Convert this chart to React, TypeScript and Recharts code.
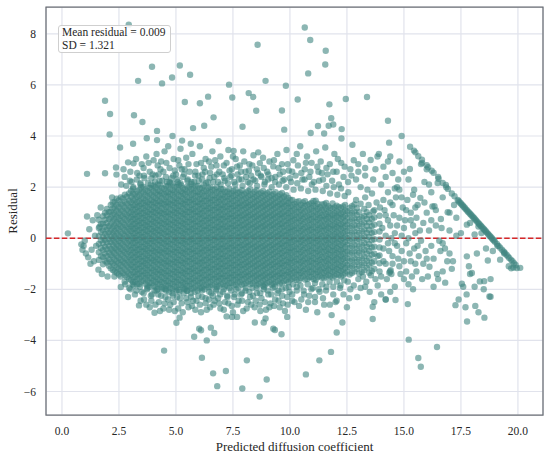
import React from 'react';
import {
  ScatterChart,
  Scatter,
  XAxis,
  YAxis,
  CartesianGrid,
  ReferenceLine,
  ReferenceArea,
} from 'recharts';

// axis setup
const xTicks = [0, 2.5, 5, 7.5, 10, 12.5, 15, 17.5, 20];
const yTicks = [-6, -4, -2, 0, 2, 4, 6, 8];
const xDomain: [number, number] = [-0.7, 21.1];
const yDomain: [number, number] = [-6.92, 9.05];

const meanResidual = 0.009;
const sdResidual = 1.321;

// dense body of the cloud: [predicted, residuals at that predicted value]
const coreLeft: [number, number[]][] = [
  [1.62, [-0.85, -0.55, -0.22, 0.08, 0.4, 0.72]],
  [1.8, [-1.02, -0.74, -0.47, -0.2, 0.04, 0.3, 0.57, 0.86]],
  [1.97, [-0.95, -0.7, -0.43, -0.17, 0.1, 0.34, 0.6, 0.9, 1.15]],
  [2.14, [-1.18, -0.92, -0.66, -0.42, -0.16, 0.08, 0.31, 0.55, 0.8, 1.04, 1.3]],
  [2.31, [-1.3, -1.06, -0.83, -0.6, -0.38, -0.15, 0.07, 0.28, 0.5, 0.73, 0.95, 1.18, 1.42]],
  [2.49, [-1.42, -1.2, -0.97, -0.76, -0.53, -0.31, -0.1, 0.11, 0.34, 0.56, 0.77, 0.99, 1.22, 1.48]],
  [2.67, [-1.36, -1.12, -0.9, -0.67, -0.46, -0.24, -0.02, 0.19, 0.42, 0.63, 0.86, 1.08, 1.31, 1.56]],
  [2.85, [-1.52, -1.29, -1.06, -0.84, -0.62, -0.41, -0.19, 0.03, 0.25, 0.46, 0.69, 0.9, 1.12, 1.36, 1.62]],
  [3.03, [-1.64, -1.43, -1.22, -1.04, -0.84, -0.66, -0.46, -0.28, -0.09, 0.09, 0.28, 0.46, 0.65, 0.83, 1.02, 1.21, 1.41, 1.63, 1.86]],
  [3.21, [-1.71, -1.51, -1.31, -1.13, -0.93, -0.74, -0.56, -0.37, -0.17, 0.01, 0.2, 0.38, 0.57, 0.75, 0.93, 1.13, 1.31, 1.52, 1.73]],
  [3.39, [-1.79, -1.58, -1.39, -1.19, -1.01, -0.8, -0.63, -0.43, -0.25, -0.05, 0.13, 0.31, 0.51, 0.68, 0.88, 1.06, 1.26, 1.45, 1.67, 1.9]],
  [3.57, [-1.67, -1.46, -1.28, -1.07, -0.9, -0.71, -0.51, -0.34, -0.14, 0.04, 0.24, 0.42, 0.61, 0.79, 0.99, 1.17, 1.38, 1.56, 1.79, 2.01]],
  [3.75, [-1.86, -1.65, -1.45, -1.24, -1.06, -0.85, -0.68, -0.48, -0.29, -0.11, 0.09, 0.27, 0.47, 0.64, 0.85, 1.03, 1.23, 1.41, 1.63, 1.85]],
  [3.93, [-1.76, -1.56, -1.35, -1.17, -0.96, -0.79, -0.58, -0.41, -0.2, -0.03, 0.18, 0.35, 0.56, 0.73, 0.94, 1.11, 1.32, 1.5, 1.72, 1.96]],
];

const coreLeftB: [number, number[]][] = [
  [1.71, [-0.7, -0.38, -0.08, 0.24, 0.56]],
  [1.89, [-0.88, -0.6, -0.33, -0.07, 0.17, 0.44, 0.72, 1.0]],
  [2.06, [-1.08, -0.82, -0.56, -0.3, -0.04, 0.22, 0.47, 0.75, 1.02]],
  [2.23, [-1.24, -0.98, -0.73, -0.49, -0.26, -0.03, 0.2, 0.43, 0.67, 0.92, 1.16, 1.4]],
  [2.4, [-1.35, -1.13, -0.9, -0.68, -0.45, -0.24, -0.02, 0.19, 0.4, 0.62, 0.84, 1.07, 1.3, 1.55]],
  [2.58, [-1.5, -1.28, -1.06, -0.85, -0.63, -0.41, -0.2, 0.01, 0.23, 0.45, 0.67, 0.88, 1.1, 1.34, 1.6]],
  [2.76, [-1.45, -1.22, -0.99, -0.78, -0.56, -0.35, -0.13, 0.09, 0.3, 0.52, 0.74, 0.96, 1.19, 1.43, 1.7]],
  [2.94, [-1.6, -1.38, -1.15, -0.94, -0.73, -0.52, -0.3, -0.08, 0.14, 0.36, 0.57, 0.79, 1.01, 1.24, 1.48, 1.75]],
  [3.12, [-1.72, -1.53, -1.33, -1.13, -0.94, -0.75, -0.56, -0.37, -0.18, 0.0, 0.19, 0.37, 0.55, 0.74, 0.93, 1.12, 1.31, 1.52, 1.74, 1.95]],
  [3.3, [-1.8, -1.6, -1.41, -1.22, -1.03, -0.84, -0.65, -0.46, -0.27, -0.08, 0.1, 0.29, 0.47, 0.66, 0.84, 1.03, 1.22, 1.41, 1.62, 1.84]],
  [3.48, [-1.7, -1.49, -1.29, -1.1, -0.9, -0.72, -0.53, -0.34, -0.15, 0.04, 0.22, 0.41, 0.6, 0.78, 0.97, 1.16, 1.35, 1.56, 1.78, 2.0]],
  [3.66, [-1.78, -1.57, -1.37, -1.17, -0.98, -0.8, -0.6, -0.42, -0.23, -0.05, 0.14, 0.33, 0.51, 0.7, 0.89, 1.08, 1.28, 1.47, 1.69, 1.92]],
  [3.84, [-1.9, -1.75, -1.55, -1.35, -1.15, -0.95, -0.76, -0.58, -0.38, -0.2, -0.01, 0.18, 0.37, 0.55, 0.75, 0.94, 1.13, 1.32, 1.52, 1.74, 1.97]],
  [4.02, [-1.86, -1.66, -1.46, -1.26, -1.06, -0.87, -0.68, -0.5, -0.3, -0.11, 0.08, 0.27, 0.46, 0.65, 0.84, 1.03, 1.22, 1.41, 1.62, 1.84, 2.06]],
];

const coreMid: [number, number[]][] = [
  [4.11, [-1.91, -1.7, -1.52, -1.31, -1.13, -0.92, -0.75, -0.54, -0.37, -0.15, 0.02, 0.23, 0.4, 0.61, 0.79, 1.0, 1.17, 1.38, 1.56, 1.78, 1.99]],
  [4.29, [-1.81, -1.63, -1.42, -1.25, -1.04, -0.86, -0.65, -0.48, -0.27, -0.09, 0.12, 0.29, 0.5, 0.68, 0.89, 1.06, 1.28, 1.45, 1.67, 1.85, 2.09]],
  [4.48, [-1.97, -1.75, -1.58, -1.37, -1.19, -0.98, -0.81, -0.59, -0.42, -0.21, -0.04, 0.17, 0.35, 0.56, 0.73, 0.95, 1.12, 1.33, 1.51, 1.73, 1.94]],
  [4.66, [-1.86, -1.68, -1.47, -1.29, -1.08, -0.91, -0.69, -0.52, -0.31, -0.13, 0.08, 0.25, 0.46, 0.64, 0.85, 1.02, 1.24, 1.41, 1.63, 1.81, 2.05]],
  [4.85, [-2.01, -1.79, -1.61, -1.4, -1.23, -1.01, -0.84, -0.63, -0.45, -0.24, -0.07, 0.15, 0.32, 0.53, 0.7, 0.92, 1.09, 1.3, 1.48, 1.7, 1.89, 2.13]],
  [5.03, [-1.93, -1.71, -1.54, -1.33, -1.15, -0.94, -0.77, -0.55, -0.38, -0.17, 0.0, 0.22, 0.39, 0.6, 0.78, 0.99, 1.16, 1.38, 1.56, 1.79, 2.01]],
  [5.22, [-1.83, -1.66, -1.44, -1.27, -1.06, -0.88, -0.67, -0.5, -0.28, -0.11, 0.1, 0.28, 0.49, 0.66, 0.87, 1.05, 1.26, 1.44, 1.65, 1.84, 2.07]],
  [5.4, [-1.99, -1.77, -1.59, -1.38, -1.21, -0.99, -0.82, -0.61, -0.43, -0.22, -0.05, 0.17, 0.34, 0.55, 0.73, 0.94, 1.11, 1.33, 1.5, 1.72, 1.91]],
  [5.59, [-1.89, -1.68, -1.5, -1.29, -1.12, -0.9, -0.73, -0.52, -0.34, -0.13, 0.04, 0.26, 0.43, 0.64, 0.82, 1.03, 1.2, 1.42, 1.59, 1.81, 2.03]],
  [5.77, [-1.96, -1.74, -1.57, -1.35, -1.18, -0.97, -0.79, -0.58, -0.41, -0.19, -0.02, 0.19, 0.37, 0.58, 0.75, 0.97, 1.14, 1.35, 1.53, 1.75, 1.96]],
  [5.96, [-1.85, -1.67, -1.46, -1.28, -1.07, -0.9, -0.68, -0.51, -0.3, -0.12, 0.09, 0.26, 0.48, 0.65, 0.86, 1.04, 1.25, 1.42, 1.64, 1.82, 2.05]],
  [6.14, [-1.94, -1.73, -1.55, -1.34, -1.16, -0.95, -0.78, -0.56, -0.39, -0.18, 0.0, 0.21, 0.38, 0.6, 0.77, 0.98, 1.16, 1.37, 1.54, 1.76, 1.97]],
  [6.33, [-1.84, -1.62, -1.45, -1.23, -1.06, -0.85, -0.67, -0.46, -0.29, -0.07, 0.1, 0.31, 0.49, 0.7, 0.87, 1.09, 1.26, 1.47, 1.65, 1.87]],
  [6.51, [-1.91, -1.7, -1.52, -1.31, -1.14, -0.92, -0.75, -0.54, -0.36, -0.15, 0.02, 0.24, 0.41, 0.62, 0.8, 1.01, 1.18, 1.4, 1.57, 1.8, 2.0]],
  [6.7, [-1.81, -1.59, -1.42, -1.21, -1.03, -0.82, -0.65, -0.43, -0.26, -0.05, 0.13, 0.34, 0.51, 0.73, 0.9, 1.11, 1.29, 1.5, 1.68, 1.91]],
  [6.88, [-1.88, -1.67, -1.49, -1.28, -1.11, -0.89, -0.72, -0.51, -0.33, -0.12, 0.05, 0.27, 0.44, 0.65, 0.83, 1.04, 1.21, 1.43, 1.61, 1.84]],
  [7.06, [-1.78, -1.57, -1.39, -1.18, -1.0, -0.79, -0.62, -0.4, -0.23, -0.02, 0.15, 0.37, 0.54, 0.75, 0.93, 1.14, 1.31, 1.53, 1.71, 1.92]],
  [7.25, [-1.86, -1.65, -1.47, -1.26, -1.08, -0.87, -0.7, -0.48, -0.31, -0.1, 0.08, 0.29, 0.46, 0.68, 0.85, 1.06, 1.24, 1.45, 1.63, 1.83]],
  [7.43, [-1.75, -1.54, -1.36, -1.15, -0.97, -0.76, -0.59, -0.37, -0.2, 0.01, 0.19, 0.4, 0.57, 0.79, 0.96, 1.17, 1.35, 1.56, 1.76]],
  [7.62, [-1.83, -1.62, -1.44, -1.23, -1.05, -0.84, -0.66, -0.45, -0.28, -0.06, 0.11, 0.33, 0.5, 0.71, 0.89, 1.1, 1.28, 1.49, 1.69, 1.9]],
  [7.8, [-1.72, -1.51, -1.33, -1.12, -0.94, -0.73, -0.56, -0.34, -0.17, 0.05, 0.22, 0.43, 0.61, 0.82, 1.0, 1.21, 1.38, 1.6, 1.8]],
  [7.99, [-1.8, -1.59, -1.41, -1.2, -1.02, -0.81, -0.63, -0.42, -0.25, -0.03, 0.14, 0.36, 0.53, 0.74, 0.92, 1.13, 1.31, 1.52, 1.72]],
];

const coreMidB: [number, number[]][] = [
  [4.2, [-2.0, -1.8, -1.61, -1.41, -1.22, -1.02, -0.83, -0.64, -0.45, -0.25, -0.06, 0.13, 0.32, 0.51, 0.7, 0.9, 1.09, 1.28, 1.47, 1.68, 1.89, 2.1]],
  [4.38, [-1.92, -1.72, -1.52, -1.33, -1.14, -0.95, -0.75, -0.56, -0.37, -0.18, 0.02, 0.21, 0.4, 0.59, 0.79, 0.98, 1.17, 1.36, 1.56, 1.76, 1.98]],
  [4.57, [-2.06, -1.86, -1.66, -1.47, -1.28, -1.08, -0.89, -0.7, -0.5, -0.31, -0.12, 0.07, 0.26, 0.46, 0.65, 0.84, 1.03, 1.23, 1.42, 1.62, 1.83, 2.04]],
  [4.75, [-1.96, -1.77, -1.57, -1.38, -1.18, -0.99, -0.8, -0.6, -0.41, -0.22, -0.03, 0.17, 0.36, 0.55, 0.74, 0.94, 1.13, 1.33, 1.52, 1.72, 1.93, 2.15]],
  [4.94, [-1.9, -1.7, -1.51, -1.31, -1.12, -0.93, -0.73, -0.54, -0.35, -0.15, 0.04, 0.24, 0.43, 0.62, 0.81, 1.01, 1.2, 1.39, 1.59, 1.8, 2.02]],
  [5.12, [-2.03, -1.82, -1.62, -1.43, -1.24, -1.04, -0.85, -0.66, -0.46, -0.27, -0.08, 0.11, 0.31, 0.5, 0.69, 0.89, 1.08, 1.27, 1.47, 1.67, 1.89, 2.1]],
  [5.31, [-1.93, -1.74, -1.55, -1.35, -1.16, -0.97, -0.77, -0.58, -0.39, -0.19, 0.0, 0.19, 0.39, 0.58, 0.77, 0.96, 1.16, 1.35, 1.55, 1.75, 1.96]],
  [5.49, [-2.07, -1.87, -1.68, -1.48, -1.29, -1.1, -0.9, -0.71, -0.52, -0.32, -0.13, 0.06, 0.26, 0.45, 0.64, 0.84, 1.03, 1.22, 1.42, 1.61, 1.82, 2.03]],
  [5.68, [-1.98, -1.78, -1.59, -1.39, -1.2, -1.01, -0.81, -0.62, -0.43, -0.23, -0.04, 0.15, 0.35, 0.54, 0.73, 0.93, 1.12, 1.31, 1.51, 1.71, 1.92, 2.12]],
  [5.86, [-1.88, -1.66, -1.47, -1.27, -1.08, -0.88, -0.69, -0.5, -0.3, -0.11, 0.08, 0.28, 0.47, 0.66, 0.86, 1.05, 1.24, 1.44, 1.64, 1.85, 2.06]],
  [6.05, [-1.97, -1.76, -1.57, -1.37, -1.18, -0.98, -0.79, -0.6, -0.4, -0.21, -0.02, 0.18, 0.37, 0.56, 0.76, 0.95, 1.14, 1.34, 1.53, 1.73, 1.95]],
  [6.23, [-1.85, -1.64, -1.45, -1.25, -1.06, -0.87, -0.67, -0.48, -0.29, -0.09, 0.1, 0.3, 0.49, 0.68, 0.88, 1.07, 1.26, 1.46, 1.65, 1.86, 2.07]],
  [6.42, [-1.93, -1.73, -1.54, -1.34, -1.15, -0.96, -0.76, -0.57, -0.38, -0.18, 0.01, 0.2, 0.4, 0.59, 0.78, 0.98, 1.17, 1.36, 1.56, 1.77, 1.98]],
  [6.6, [-1.83, -1.61, -1.42, -1.22, -1.03, -0.84, -0.64, -0.45, -0.26, -0.06, 0.13, 0.32, 0.52, 0.71, 0.9, 1.1, 1.29, 1.49, 1.69, 1.9]],
  [6.79, [-1.9, -1.7, -1.51, -1.31, -1.12, -0.93, -0.73, -0.54, -0.35, -0.15, 0.04, 0.23, 0.43, 0.62, 0.81, 1.01, 1.2, 1.39, 1.59, 1.8, 2.0]],
  [6.97, [-1.8, -1.58, -1.39, -1.19, -1.0, -0.81, -0.61, -0.42, -0.23, -0.03, 0.16, 0.35, 0.55, 0.74, 0.93, 1.13, 1.32, 1.52, 1.72, 1.93]],
  [7.15, [-1.88, -1.67, -1.48, -1.28, -1.09, -0.9, -0.7, -0.51, -0.32, -0.12, 0.07, 0.26, 0.46, 0.65, 0.84, 1.04, 1.23, 1.42, 1.62, 1.82]],
  [7.34, [-1.76, -1.56, -1.37, -1.17, -0.98, -0.79, -0.59, -0.4, -0.21, -0.01, 0.18, 0.37, 0.57, 0.76, 0.95, 1.15, 1.34, 1.54, 1.74, 1.94]],
  [7.52, [-1.85, -1.64, -1.45, -1.25, -1.06, -0.87, -0.67, -0.48, -0.29, -0.09, 0.1, 0.29, 0.49, 0.68, 0.87, 1.07, 1.26, 1.46, 1.66, 1.86]],
  [7.71, [-1.73, -1.53, -1.34, -1.14, -0.95, -0.76, -0.56, -0.37, -0.18, 0.02, 0.21, 0.4, 0.6, 0.79, 0.98, 1.18, 1.37, 1.57, 1.78]],
  [7.89, [-1.82, -1.62, -1.43, -1.23, -1.04, -0.85, -0.65, -0.46, -0.27, -0.07, 0.12, 0.31, 0.51, 0.7, 0.89, 1.09, 1.28, 1.48, 1.69, 1.88]],
  [8.08, [-1.74, -1.52, -1.33, -1.13, -0.94, -0.75, -0.55, -0.36, -0.17, 0.03, 0.22, 0.41, 0.61, 0.8, 0.99, 1.19, 1.38, 1.58, 1.79]],
];

const coreRight: [number, number[]][] = [
  [8.17, [-1.69, -1.48, -1.3, -1.09, -0.91, -0.7, -0.53, -0.31, -0.14, 0.08, 0.25, 0.46, 0.64, 0.85, 1.03, 1.24, 1.41, 1.63, 1.85]],
  [8.36, [-1.77, -1.56, -1.38, -1.17, -0.99, -0.78, -0.6, -0.39, -0.22, 0.0, 0.17, 0.39, 0.56, 0.77, 0.95, 1.16, 1.34, 1.55, 1.74]],
  [8.54, [-1.85, -1.64, -1.46, -1.25, -1.07, -0.86, -0.68, -0.47, -0.3, -0.08, 0.09, 0.31, 0.48, 0.69, 0.87, 1.08, 1.26, 1.47, 1.66, 1.88]],
  [8.73, [-1.74, -1.53, -1.35, -1.14, -0.96, -0.75, -0.57, -0.36, -0.19, 0.03, 0.2, 0.42, 0.59, 0.8, 0.98, 1.19, 1.37, 1.58, 1.78]],
  [8.91, [-1.82, -1.61, -1.43, -1.22, -1.04, -0.83, -0.65, -0.44, -0.27, -0.05, 0.12, 0.34, 0.51, 0.72, 0.9, 1.11, 1.29, 1.5, 1.71]],
  [9.1, [-1.71, -1.5, -1.32, -1.11, -0.93, -0.72, -0.54, -0.33, -0.16, 0.06, 0.23, 0.45, 0.62, 0.83, 1.01, 1.22, 1.4, 1.61, 1.82]],
  [9.28, [-1.79, -1.58, -1.4, -1.19, -1.01, -0.8, -0.62, -0.41, -0.24, -0.02, 0.15, 0.37, 0.54, 0.75, 0.93, 1.14, 1.32, 1.53, 1.73]],
  [9.47, [-1.68, -1.47, -1.29, -1.08, -0.9, -0.69, -0.51, -0.3, -0.13, 0.09, 0.26, 0.48, 0.65, 0.86, 1.04, 1.25, 1.43, 1.64]],
  [9.65, [-1.76, -1.55, -1.37, -1.16, -0.98, -0.77, -0.59, -0.38, -0.21, 0.01, 0.18, 0.4, 0.57, 0.78, 0.96, 1.17, 1.35, 1.56, 1.77]],
  [9.84, [-1.65, -1.44, -1.26, -1.05, -0.87, -0.66, -0.48, -0.27, -0.1, 0.12, 0.29, 0.51, 0.68, 0.89, 1.07, 1.28, 1.46, 1.68]],
  [10.02, [-1.62, -1.4, -1.2, -0.98, -0.79, -0.57, -0.38, -0.16, 0.03, 0.25, 0.44, 0.66, 0.85, 1.07, 1.26, 1.5]],
  [10.2, [-1.55, -1.33, -1.14, -0.92, -0.73, -0.51, -0.32, -0.1, 0.09, 0.31, 0.5, 0.72, 0.91, 1.13, 1.34]],
  [10.39, [-1.66, -1.44, -1.25, -1.03, -0.84, -0.62, -0.43, -0.21, -0.02, 0.2, 0.39, 0.61, 0.8, 1.02, 1.21, 1.45]],
  [10.57, [-1.5, -1.29, -1.09, -0.88, -0.68, -0.47, -0.27, -0.06, 0.14, 0.35, 0.55, 0.76, 0.96, 1.18, 1.4]],
  [10.76, [-1.6, -1.38, -1.19, -0.97, -0.78, -0.56, -0.37, -0.15, 0.04, 0.26, 0.45, 0.67, 0.86, 1.08, 1.3]],
  [10.94, [-1.52, -1.31, -1.11, -0.9, -0.7, -0.49, -0.29, -0.08, 0.12, 0.33, 0.53, 0.74, 0.94, 1.16, 1.38]],
  [11.13, [-1.63, -1.41, -1.22, -1.0, -0.81, -0.59, -0.4, -0.18, 0.01, 0.23, 0.42, 0.64, 0.83, 1.05, 1.25, 1.47]],
  [11.31, [-1.47, -1.26, -1.06, -0.85, -0.65, -0.44, -0.24, -0.03, 0.17, 0.38, 0.58, 0.79, 0.99, 1.21]],
  [11.5, [-1.57, -1.35, -1.16, -0.94, -0.75, -0.53, -0.34, -0.12, 0.07, 0.29, 0.48, 0.7, 0.89, 1.11, 1.33]],
  [11.68, [-1.44, -1.23, -1.03, -0.82, -0.62, -0.41, -0.21, 0.0, 0.2, 0.41, 0.61, 0.82, 1.02, 1.25]],
  [11.87, [-1.54, -1.32, -1.13, -0.91, -0.72, -0.5, -0.31, -0.09, 0.1, 0.32, 0.51, 0.73, 0.92, 1.15, 1.36]],
  [12.05, [-1.41, -1.2, -1.0, -0.79, -0.59, -0.38, -0.18, 0.03, 0.23, 0.44, 0.64, 0.85, 1.05, 1.27]],
  [12.24, [-1.5, -1.28, -1.09, -0.87, -0.68, -0.46, -0.27, -0.05, 0.14, 0.36, 0.55, 0.77, 0.96, 1.18]],
  [12.42, [-1.38, -1.17, -0.97, -0.76, -0.56, -0.35, -0.15, 0.06, 0.26, 0.47, 0.67, 0.88, 1.08, 1.3]],
  [12.62, [-1.42, -1.15, -0.9, -0.63, -0.38, -0.11, 0.14, 0.41, 0.66, 0.93, 1.18]],
  [12.83, [-1.3, -1.04, -0.78, -0.52, -0.26, 0.0, 0.26, 0.52, 0.78, 1.04, 1.32]],
  [13.04, [-1.38, -1.1, -0.85, -0.57, -0.32, -0.04, 0.21, 0.49, 0.74, 1.02]],
  [13.26, [-1.25, -0.98, -0.72, -0.45, -0.19, 0.08, 0.34, 0.61, 0.87, 1.15]],
  [13.48, [-1.35, -1.06, -0.79, -0.5, -0.23, 0.06, 0.33, 0.62, 0.9]],
  [13.7, [-1.2, -0.9, -0.61, -0.33, -0.04, 0.24, 0.53, 0.81, 1.1]],
  [13.93, [-1.3, -0.98, -0.67, -0.36, -0.05, 0.26, 0.57, 0.88]],
];

const coreRightB: [number, number[]][] = [
  [8.26, [-1.8, -1.6, -1.41, -1.21, -1.02, -0.83, -0.63, -0.44, -0.25, -0.05, 0.14, 0.33, 0.53, 0.72, 0.91, 1.11, 1.3, 1.5, 1.7, 1.92]],
  [8.45, [-1.7, -1.49, -1.3, -1.1, -0.91, -0.72, -0.52, -0.33, -0.14, 0.06, 0.25, 0.44, 0.64, 0.83, 1.02, 1.22, 1.41, 1.61, 1.82]],
  [8.63, [-1.79, -1.58, -1.39, -1.19, -1.0, -0.81, -0.61, -0.42, -0.23, -0.03, 0.16, 0.35, 0.55, 0.74, 0.93, 1.13, 1.32, 1.52, 1.73]],
  [8.82, [-1.86, -1.66, -1.47, -1.27, -1.08, -0.89, -0.69, -0.5, -0.31, -0.11, 0.08, 0.27, 0.47, 0.66, 0.85, 1.05, 1.24, 1.44, 1.65, 1.85]],
  [9.0, [-1.76, -1.55, -1.36, -1.16, -0.97, -0.78, -0.58, -0.39, -0.2, 0.0, 0.19, 0.38, 0.58, 0.77, 0.96, 1.16, 1.35, 1.55, 1.76]],
  [9.19, [-1.82, -1.62, -1.43, -1.23, -1.04, -0.85, -0.65, -0.46, -0.27, -0.07, 0.12, 0.31, 0.51, 0.7, 0.89, 1.09, 1.28, 1.48, 1.68]],
  [9.37, [-1.72, -1.51, -1.32, -1.12, -0.93, -0.74, -0.54, -0.35, -0.16, 0.04, 0.23, 0.42, 0.62, 0.81, 1.0, 1.2, 1.39, 1.59, 1.8]],
  [9.56, [-1.78, -1.57, -1.38, -1.18, -0.99, -0.8, -0.6, -0.41, -0.22, -0.02, 0.17, 0.36, 0.56, 0.75, 0.94, 1.14, 1.33, 1.53, 1.72]],
  [9.74, [-1.68, -1.47, -1.28, -1.08, -0.89, -0.7, -0.5, -0.31, -0.12, 0.08, 0.27, 0.46, 0.66, 0.85, 1.04, 1.24, 1.43, 1.63]],
  [9.93, [-1.73, -1.52, -1.33, -1.13, -0.94, -0.75, -0.55, -0.36, -0.17, 0.03, 0.22, 0.41, 0.61, 0.8, 0.99, 1.19, 1.38, 1.58]],
  [10.11, [-1.58, -1.37, -1.17, -0.96, -0.76, -0.56, -0.35, -0.15, 0.05, 0.26, 0.46, 0.67, 0.87, 1.08, 1.29, 1.5]],
  [10.29, [-1.64, -1.43, -1.23, -1.02, -0.82, -0.62, -0.41, -0.21, -0.01, 0.2, 0.4, 0.61, 0.81, 1.02, 1.23, 1.42]],
  [10.48, [-1.56, -1.35, -1.15, -0.94, -0.74, -0.54, -0.33, -0.13, 0.07, 0.28, 0.48, 0.69, 0.89, 1.1, 1.31]],
  [10.66, [-1.62, -1.4, -1.2, -0.99, -0.79, -0.59, -0.38, -0.18, 0.02, 0.23, 0.43, 0.64, 0.84, 1.05, 1.26, 1.45]],
  [10.85, [-1.53, -1.32, -1.12, -0.91, -0.71, -0.51, -0.3, -0.1, 0.1, 0.31, 0.51, 0.72, 0.92, 1.13, 1.34]],
  [11.03, [-1.6, -1.39, -1.19, -0.98, -0.78, -0.58, -0.37, -0.17, 0.03, 0.24, 0.44, 0.65, 0.85, 1.06, 1.27, 1.46]],
  [11.22, [-1.52, -1.31, -1.11, -0.9, -0.7, -0.5, -0.29, -0.09, 0.11, 0.32, 0.52, 0.73, 0.93, 1.14, 1.35]],
  [11.4, [-1.55, -1.34, -1.14, -0.93, -0.73, -0.53, -0.32, -0.12, 0.08, 0.29, 0.49, 0.7, 0.9, 1.11, 1.32]],
  [11.59, [-1.5, -1.29, -1.09, -0.88, -0.68, -0.48, -0.27, -0.07, 0.13, 0.34, 0.54, 0.75, 0.95, 1.16, 1.38]],
  [11.77, [-1.48, -1.27, -1.07, -0.86, -0.66, -0.46, -0.25, -0.05, 0.15, 0.36, 0.56, 0.77, 0.97, 1.18]],
  [11.96, [-1.47, -1.26, -1.06, -0.85, -0.65, -0.45, -0.24, -0.04, 0.16, 0.37, 0.57, 0.78, 0.98, 1.2]],
  [12.14, [-1.45, -1.24, -1.04, -0.83, -0.63, -0.43, -0.22, -0.02, 0.18, 0.39, 0.59, 0.8, 1.0, 1.22]],
  [12.33, [-1.43, -1.22, -1.02, -0.81, -0.61, -0.41, -0.2, 0.0, 0.2, 0.41, 0.61, 0.82, 1.02, 1.24]],
  [12.52, [-1.3, -1.05, -0.78, -0.52, -0.25, 0.01, 0.28, 0.54, 0.8, 1.06]],
  [12.72, [-1.36, -1.1, -0.84, -0.57, -0.31, -0.05, 0.21, 0.47, 0.73, 0.99, 1.25]],
  [12.93, [-1.2, -0.92, -0.66, -0.4, -0.13, 0.13, 0.39, 0.65, 0.91, 1.17]],
  [13.15, [-1.32, -1.05, -0.78, -0.52, -0.25, 0.02, 0.28, 0.55, 0.81]],
  [13.37, [-1.15, -0.88, -0.6, -0.33, -0.06, 0.21, 0.48, 0.75, 1.02]],
  [13.59, [-1.28, -0.96, -0.65, -0.36, -0.08, 0.2, 0.47, 0.75]],
];

// low predictions, sparse
const sparseLeft: [number, number][] = [
  [0.26, 0.19], [0.85, -0.24], [0.9, -0.45], [0.95, -0.3], [1.05, -0.6], [1.0, -0.1],
  [1.15, -0.75], [1.2, 0.35], [1.3, -0.45], [1.35, 0.7], [1.4, -0.9], [1.45, 0.1],
  [1.5, -0.3], [1.55, 0.9], [1.6, -1.23], [1.1, 0.85], [1.25, -1.0], [1.7, 1.2],
  [1.75, -1.4], [1.65, 0.45], [1.1, 2.52], [1.89, 2.54], [2.0, -1.5], [2.2, 1.6],
];

// just above and below the dense body
const upperBand: [number, number][] = [
  [2.82, 2.05], [2.98, 2.25], [3.13, 2.0], [3.28, 2.3], [3.44, 2.1], [3.6, 2.45], [3.77, 2.15],
  [3.92, 2.35], [4.08, 2.2], [4.24, 2.5], [4.4, 2.25], [4.56, 2.4], [4.71, 2.2], [4.88, 2.45],
  [5.04, 2.3], [5.2, 2.15], [5.36, 2.5], [5.52, 2.3], [5.68, 2.2], [5.84, 2.45], [6.0, 2.25],
  [6.16, 2.5], [6.32, 2.15], [6.48, 2.35], [6.64, 2.2], [6.8, 2.5], [6.96, 2.1], [7.12, 2.35],
  [7.28, 2.15], [7.44, 2.45], [7.6, 2.1], [7.76, 2.3], [7.92, 2.05], [8.08, 2.4], [8.24, 2.15],
  [8.4, 2.3], [8.56, 2.05], [8.72, 2.45], [8.88, 2.1], [9.04, 2.3], [9.2, 2.0], [9.36, 2.4],
  [9.52, 2.1], [9.68, 2.25], [9.84, 2.0], [10.0, 2.35], [10.16, 1.9], [10.32, 2.15], [10.48, 1.95],
  [10.64, 2.3], [10.8, 1.85], [10.96, 2.1], [11.12, 1.9], [11.28, 2.25], [11.44, 1.85], [11.6, 2.05],
  [11.76, 1.75], [11.92, 2.0], [12.08, 1.7], [12.24, 1.95], [12.4, 1.65], [12.56, 1.8],
];

const lowerBand: [number, number][] = [
  [2.78, -1.8], [2.95, -1.95], [3.1, -1.8], [3.26, -2.05], [3.42, -1.9], [3.58, -2.15], [3.74, -2.0],
  [3.9, -2.25], [4.06, -2.05], [4.22, -2.2], [4.38, -2.0], [4.54, -2.3], [4.7, -2.1], [4.86, -2.25],
  [5.02, -2.05], [5.18, -2.35], [5.34, -2.15], [5.5, -2.05], [5.66, -2.3], [5.82, -2.1], [5.98, -2.25],
  [6.14, -2.05], [6.3, -2.35], [6.46, -2.1], [6.62, -2.25], [6.78, -2.0], [6.94, -2.2], [7.1, -2.0],
  [7.26, -2.3], [7.42, -2.05], [7.58, -2.2], [7.74, -1.95], [7.9, -2.15], [8.06, -1.95], [8.22, -2.1],
  [8.38, -2.25], [8.54, -1.95], [8.7, -2.15], [8.86, -1.9], [9.02, -2.05], [9.18, -2.2], [9.34, -1.9],
  [9.5, -2.05], [9.66, -2.25], [9.82, -1.95], [9.98, -2.1], [10.14, -1.8], [10.3, -2.05], [10.46, -1.85],
  [10.62, -2.2], [10.78, -1.8], [10.94, -2.0], [11.1, -1.75], [11.26, -2.0], [11.42, -1.8], [11.58, -2.05],
  [11.74, -1.7], [11.9, -1.9], [12.06, -1.7], [12.22, -1.85], [12.38, -1.65], [12.54, -1.7],
];

// the thinning tail between about 13 and 17
const tailMid: [number, number][] = [
  [12.9, 1.5], [13.0, -1.6], [13.1, 1.35], [13.2, -1.5], [13.3, 1.6], [13.35, -1.7], [13.45, 1.3],
  [13.55, -1.45], [13.6, 1.75], [13.65, 1.05], [13.75, -1.6], [13.8, 1.4], [13.85, -0.7], [13.95, 1.2],
  [14.0, -1.5], [14.05, 0.4], [14.1, -0.9], [14.15, 1.1], [14.2, 0.1], [14.25, -1.6], [14.3, 0.7],
  [14.35, -0.5], [14.4, 1.4], [14.45, 0.0], [14.5, -1.0], [14.55, 0.9], [14.6, -0.2], [14.65, 1.6],
  [14.7, 0.5], [14.75, -0.8], [14.8, 1.9], [14.85, -1.4], [14.9, 0.1], [14.95, 1.2], [15.0, -0.9],
  [15.05, 0.7], [15.1, -1.3], [15.15, 1.5], [15.2, 0.0], [15.25, -0.6], [15.3, 1.0], [15.35, -1.5],
  [15.4, 0.5], [15.45, 1.9], [15.5, -1.0], [15.55, 0.8], [15.6, -0.3], [15.7, 0.3], [15.8, -1.6],
  [15.9, 1.4], [16.0, -0.8], [16.1, 2.1], [16.2, 0.7], [16.3, -1.9], [16.4, 1.1], [16.55, -0.1],
  [16.65, 0.4], [16.8, -0.4], [17.0, 1.0], [17.15, -0.9], [17.3, 0.1],
];

const upperFringe: [number, number][] = [
  [2.39, 2.49], [2.37, 2.77], [2.6, 2.1], [2.75, 2.4], [2.9, 2.97], [3.14, 2.93], [3.05, 2.2],
  [3.3, 2.55], [3.45, 2.15], [3.5, 2.9], [3.62, 2.35], [3.7, 3.2], [3.85, 2.6], [3.9, 2.1],
  [4.02, 3.05], [4.1, 2.45], [4.2, 2.85], [4.28, 2.25], [4.35, 3.0], [4.45, 2.6], [4.5, 3.4],
  [4.6, 2.2], [4.72, 2.75], [4.8, 2.35], [4.9, 3.1], [5.0, 2.5], [5.08, 2.2], [5.15, 2.85],
  [5.2, 3.5], [5.3, 2.4], [5.38, 2.7], [5.45, 3.15], [5.5, 2.25], [5.6, 2.6], [5.72, 3.3],
  [5.8, 2.2], [5.9, 2.9], [5.98, 2.45], [6.05, 3.6], [6.15, 2.3], [6.22, 2.75], [6.3, 3.1],
  [6.4, 2.2], [6.5, 2.55], [6.6, 3.4], [6.68, 2.4], [6.78, 2.85], [6.85, 2.2], [6.95, 3.2],
  [7.05, 2.5], [7.15, 2.25], [7.22, 2.95], [7.3, 3.45], [7.38, 2.4], [7.45, 2.7], [7.55, 2.2],
  [7.62, 3.1], [7.7, 2.5], [7.8, 2.85], [7.88, 2.3], [7.95, 3.4], [8.05, 2.6], [8.15, 2.2],
  [8.22, 2.9], [8.3, 2.45], [8.4, 3.25], [8.48, 2.25], [8.55, 2.7], [8.68, 2.94], [8.75, 2.4],
  [8.82, 3.15], [8.9, 2.2], [9.0, 2.6], [9.1, 3.0], [9.2, 2.35], [9.27, 2.81], [9.35, 2.2],
  [9.45, 3.3], [9.55, 2.5], [9.65, 2.9], [9.75, 2.3], [9.85, 3.45], [9.95, 2.65], [10.05, 2.2],
  [10.15, 3.05], [10.25, 2.45], [10.35, 2.85], [10.45, 3.6], [10.55, 2.3], [10.65, 2.7],
  [10.75, 3.2], [10.85, 2.4], [10.95, 2.95], [11.05, 2.2], [11.15, 3.4], [11.25, 2.6],
  [11.35, 3.0], [11.45, 2.3], [11.55, 3.55], [11.65, 2.5], [11.75, 2.9], [11.85, 2.25],
  [11.95, 3.3], [12.05, 2.6], [12.15, 2.1], [12.25, 2.95], [12.35, 2.4], [12.55, 2.2],
  [12.65, 2.7], [12.8, 3.05], [12.9, 2.3], [13.0, 2.6], [13.1, 2.0], [13.2, 3.3], [13.3, 2.45],
  [13.4, 1.9], [13.54, 3.06], [13.65, 2.3], [13.75, 2.7], [13.84, 3.2], [13.9, 3.3], [14.0, 2.1],
  [14.1, 2.8], [14.2, 2.4], [14.3, 3.0], [14.4, 3.2], [14.5, 2.55], [14.6, 1.95], [14.75, 2.3],
];

const upperFringe2: [number, number][] = [
  [2.7, 2.7], [3.0, 2.6], [3.25, 3.1], [3.4, 2.45], [3.58, 2.75], [3.8, 2.95], [3.98, 2.5],
  [4.15, 3.3], [4.32, 2.7], [4.58, 2.95], [4.66, 3.6], [4.95, 2.65], [5.1, 3.05], [5.25, 2.7],
  [5.55, 2.9], [5.65, 3.7], [5.85, 2.6], [6.1, 2.95], [6.28, 2.6], [6.45, 3.0], [6.55, 2.8],
  [6.72, 3.05], [6.9, 2.6], [7.1, 2.85], [7.35, 2.65], [7.5, 3.2], [7.68, 2.8], [7.85, 2.6],
  [8.0, 3.0], [8.2, 2.65], [8.35, 2.85], [8.6, 2.55], [8.85, 2.75], [9.05, 2.5], [9.3, 3.05],
  [9.5, 2.75], [9.7, 2.6], [9.9, 2.9], [10.1, 2.6], [10.3, 3.3], [10.5, 2.55], [10.7, 2.95],
  [10.9, 2.6], [11.2, 2.8], [11.4, 2.55], [11.6, 2.75], [11.9, 2.6], [12.1, 3.1], [12.4, 2.8],
  [12.7, 2.45], [13.0, 2.9], [13.3, 2.75],
];

const upperOutliers: [number, number][] = [
  [2.93, 8.36], [1.89, 5.38], [2.11, 4.86], [2.09, 4.06], [2.55, 3.55], [3.34, 6.16],
  [3.95, 6.71], [4.39, 6.06], [4.83, 6.29], [5.17, 6.76], [5.62, 6.4], [5.39, 5.33],
  [6.05, 5.28], [6.41, 5.54], [6.65, 4.73], [3.16, 4.81], [3.53, 4.55], [3.12, 3.7],
  [3.72, 3.91], [4.17, 4.2], [4.17, 3.84], [4.85, 4.0], [5.27, 3.82], [5.75, 4.31],
  [6.24, 4.4], [6.87, 3.8], [7.33, 6.01], [7.47, 5.51], [8.19, 5.68], [8.39, 5.53],
  [8.52, 4.99], [8.58, 7.57], [8.93, 6.16], [7.92, 4.36], [7.53, 3.42], [8.61, 3.36],
  [10.65, 8.25], [10.89, 7.76], [11.57, 7.34], [11.55, 6.8], [10.8, 6.45], [9.82, 5.97],
  [10.34, 5.43], [9.65, 5.0], [9.75, 4.25], [12.45, 5.45], [13.38, 5.53], [11.73, 5.24],
  [11.81, 4.7], [11.23, 4.39], [11.7, 4.4], [11.9, 4.45], [10.91, 4.12], [11.5, 4.1],
  [12.27, 4.27], [12.26, 3.9], [12.74, 3.66], [14.3, 4.6], [14.9, 4.0], [14.35, 3.74],
];

const lowerFringe: [number, number][] = [
  [2.3, -1.5], [2.58, -1.91], [2.75, -1.7], [3.0, -2.0], [3.15, -1.85], [3.38, -2.63],
  [3.5, -2.1], [3.6, -2.4], [3.75, -1.95], [3.85, -2.7], [3.95, -2.2], [4.06, -2.92],
  [4.15, -2.05], [4.25, -2.5], [4.35, -2.25], [4.45, -2.75], [4.55, -2.0], [4.65, -2.4],
  [4.75, -2.6], [4.85, -2.15], [4.95, -2.85], [5.05, -2.3], [5.15, -2.1], [5.25, -2.55],
  [5.35, -2.0], [5.45, -2.35], [5.55, -2.7], [5.65, -2.15], [5.75, -2.45], [5.85, -2.8],
  [5.95, -2.05], [6.05, -2.6], [6.15, -2.3], [6.25, -2.0], [6.35, -2.8], [6.45, -2.4],
  [6.55, -2.15], [6.65, -2.6], [6.75, -2.05], [6.85, -2.35], [6.95, -2.75], [7.05, -2.1],
  [7.15, -2.5], [7.25, -2.25], [7.35, -1.95], [7.45, -2.65], [7.55, -2.3], [7.65, -2.0],
  [7.75, -2.45], [7.85, -2.2], [7.95, -2.85], [8.05, -2.05], [8.15, -2.5], [8.25, -2.3],
  [8.35, -1.95], [8.45, -2.7], [8.55, -2.15], [8.67, -2.6], [8.75, -2.35], [8.85, -2.0],
  [8.95, -2.8], [9.05, -2.2], [9.15, -2.55], [9.25, -1.95], [9.35, -2.4], [9.45, -2.15],
  [9.55, -2.7], [9.65, -2.0], [9.78, -2.85], [9.88, -2.3], [9.95, -1.9], [10.1, -2.2],
  [10.2, -2.5], [10.3, -1.9], [10.5, -2.4], [10.6, -2.05], [10.7, -2.8], [10.85, -2.25],
  [11.0, -1.95], [11.1, -2.5], [11.2, -2.9], [11.3, -2.1], [11.45, -2.35], [11.6, -1.9],
  [11.75, -2.6], [11.83, -3.01], [11.9, -2.2], [12.05, -2.45], [12.2, -1.95], [12.35, -2.2],
  [12.5, -2.7], [12.65, -2.0], [12.8, -1.85], [12.95, -2.3], [13.1, -1.95], [13.3, -1.9],
  [13.5, -2.1], [13.63, -2.68], [13.7, -2.5], [13.85, -1.85], [14.0, -2.2], [14.2, -2.4],
  [14.4, -2.1], [14.63, -2.42],
];

const lowerFringe2: [number, number][] = [
  [2.9, -2.3], [3.2, -2.2], [3.45, -2.45], [3.7, -2.6], [3.92, -2.45], [4.1, -2.6], [4.3, -2.85],
  [4.5, -2.55], [4.7, -2.8], [4.9, -2.5], [5.1, -2.75], [5.3, -2.9], [5.5, -2.5], [5.7, -2.65],
  [5.9, -2.45], [6.1, -2.9], [6.3, -2.55], [6.5, -2.7], [6.7, -2.45], [6.9, -2.55], [7.1, -2.8],
  [7.3, -2.55], [7.5, -2.9], [7.7, -2.6], [7.9, -2.45], [8.1, -2.75], [8.3, -2.6], [8.5, -2.45],
  [8.7, -2.85], [8.9, -2.5], [9.1, -2.7], [9.3, -2.65], [9.5, -2.45], [9.7, -2.55], [9.9, -2.6],
  [10.1, -2.45], [10.4, -2.65], [10.8, -2.5], [11.1, -2.3], [11.5, -2.6], [12.0, -2.5], [12.6, -2.35],
];

const lowerOutliers: [number, number][] = [
  [4.48, -4.4], [5.02, -3.31], [5.16, -3.11], [5.8, -3.86], [6.02, -3.54], [6.1, -3.6],
  [6.35, -4.0], [6.14, -4.68], [6.53, -3.5], [6.63, -5.29], [6.68, -3.71], [6.81, -5.79],
  [7.19, -5.2], [7.22, -3.06], [7.46, -3.08], [7.68, -3.08], [7.91, -5.88], [8.11, -4.78],
  [8.46, -3.3], [8.67, -6.2], [8.98, -5.53], [8.93, -3.14], [8.85, -3.3], [9.27, -3.54],
  [9.34, -3.59], [9.63, -3.76], [9.88, -3.08], [10.7, -5.33], [11.29, -4.78], [11.8, -4.45],
  [12.05, -3.69], [12.3, -3.3], [13.63, -3.16], [15.21, -3.97], [15.63, -4.69], [15.74, -5.03],
  [16.45, -4.26], [17.77, -3.26], [18.53, -3.11],
];

// high predictions, scattered around zero
const rightSide: [number, number][] = [
  [14.1, 1.5], [14.2, 0.9], [14.3, 1.8], [14.4, 0.5], [14.5, 1.3], [14.6, 0.2], [14.7, 2.0],
  [14.8, 0.8], [14.9, 1.6], [15.0, 0.4], [15.1, 1.1], [15.2, 2.3], [15.3, 0.7], [15.4, 1.7],
  [15.5, 0.2], [15.6, 1.3], [15.72, 1.58], [15.8, 2.95], [15.85, 0.6], [15.9, 2.2], [16.0, 1.0],
  [16.1, 0.3], [16.2, 1.8], [16.25, 1.24], [16.34, 1.25], [16.4, 0.5], [16.5, 2.4], [16.62, 0.75],
  [16.7, 1.6], [16.84, 2.08], [16.92, 1.02], [17.0, 0.3], [17.2, 1.3], [17.3, 0.8], [17.5, 0.2],
  [17.76, 0.53], [17.9, 0.6], [18.1, 0.15], [18.27, 0.46], [18.4, 0.2], [15.26, 2.71],
  [15.75, 2.9], [16.0, 2.7], [16.48, 2.16], [15.0, 2.6], [14.8, 3.0], [15.5, 1.2],
  [14.1, -0.4], [14.2, -1.0], [14.3, -0.2], [14.45, -1.4], [14.5, -0.7], [14.6, -1.9],
  [14.7, -0.3], [14.8, -1.1], [14.9, -0.5], [15.0, -1.6], [15.1, -0.2], [15.2, -1.8],
  [15.3, -0.9], [15.4, -2.0], [15.45, -0.4], [15.55, -1.3], [15.65, -0.7], [15.75, -0.1],
  [15.85, -1.0], [15.95, -0.5], [16.05, -1.5], [16.12, -1.12], [16.2, -0.3], [16.3, -0.8],
  [16.45, -1.4], [16.5, -1.6], [16.6, -0.5], [16.7, -0.2], [16.81, -1.74], [16.9, -0.9],
  [17.0, -0.6], [17.1, -1.2], [17.26, -2.62], [17.4, -2.4], [17.54, -1.78], [17.6, -1.9],
  [17.7, -2.7], [17.75, -2.2], [17.76, -0.71], [17.85, -1.1], [17.9, -1.4], [17.98, -1.36],
  [18.1, -1.9], [18.13, -2.65], [18.2, -0.6], [18.27, -2.9], [18.33, -1.69], [18.5, -2.0],
  [18.52, -1.68], [18.6, -0.4], [18.68, -0.87], [18.8, -2.29], [18.8, -1.6], [18.75, -2.28],
  [18.9, -0.5], [19.1, -0.3], [19.22, -0.84], [19.4, -0.6], [19.7, -1.18], [19.8, -1.15],
  [19.95, -1.17], [20.1, -1.16], [19.6, -1.1], [15.17, -2.58], [14.2, -2.4], [16.7, -1.3],
  [14.39, -1.3], [14.42, -1.25], [14.36, -1.35],
];

// capped predictions near the top of the range
const diagonal: [number, number][] = [
  [15.27, 3.58], [15.44, 3.43], [15.5, 3.36], [15.63, 3.21], [15.79, 3.07], [16.0, 2.86],
  [16.06, 2.78], [16.22, 2.64], [16.3, 2.56], [16.52, 2.33], [16.7, 2.16], [16.86, 1.99],
  [16.93, 1.93], [17.1, 1.75], [17.22, 1.64],
  [17.36, 1.5], [17.4, 1.46], [17.44, 1.41], [17.49, 1.37], [17.53, 1.32], [17.58, 1.28],
  [17.62, 1.23], [17.67, 1.19], [17.71, 1.14], [17.76, 1.1], [17.8, 1.05], [17.85, 1.01],
  [17.9, 0.96], [17.94, 0.92], [17.99, 0.87], [18.04, 0.82], [18.08, 0.78], [18.13, 0.73],
  [18.17, 0.69], [18.22, 0.64], [18.27, 0.59], [18.31, 0.55], [18.36, 0.5], [18.4, 0.46],
  [18.45, 0.41], [18.5, 0.36], [18.54, 0.32], [18.59, 0.27], [18.63, 0.23], [18.68, 0.18],
  [18.72, 0.14], [18.77, 0.09], [18.81, 0.05], [18.86, 0.0], [18.9, -0.05], [18.95, -0.09],
  [18.99, -0.14], [19.08, -0.22], [19.15, -0.3], [19.22, -0.37], [19.3, -0.45], [19.37, -0.52],
  [19.42, -0.57], [19.5, -0.65], [19.56, -0.71], [19.62, -0.77], [19.7, -0.85], [19.76, -0.9],
  [19.83, -0.98], [19.9, -1.05],
];

const fromColumns = (cols: [number, number[]][]) =>
  cols.flatMap(([x, ys]) => ys.map((y) => ({ x, y })));
const fromPairs = (pts: [number, number][]) => pts.map(([x, y]) => ({ x, y }));

const seriesList = [
  fromColumns(coreLeft),
  fromColumns(coreLeftB),
  fromColumns(coreMid),
  fromColumns(coreMidB),
  fromColumns(coreRight),
  fromColumns(coreRightB),
  fromPairs(sparseLeft),
  fromPairs(upperBand),
  fromPairs(lowerBand),
  fromPairs(tailMid),
  fromPairs(upperFringe),
  fromPairs(upperFringe2),
  fromPairs(lowerFringe),
  fromPairs(lowerFringe2),
  fromPairs(upperOutliers),
  fromPairs(lowerOutliers),
  fromPairs(rightSide),
  fromPairs(diagonal),
];

const serif = '"Liberation Serif", "DejaVu Serif", "Times New Roman", serif';
const pointColor = '#3f8681';

const Dot = (props: any) => (
  <circle cx={props.cx} cy={props.cy} r={3.2} fill={pointColor} fillOpacity={0.6} />
);

const fmtY = (v: number) => (v < 0 ? '\u2212' + Math.abs(v) : String(v));

export default function App() {
  return (
    <div style={{ position: 'absolute', left: 0, top: 0, width: 550, height: 458, background: '#fff' }}>
      <ScatterChart width={550} height={458} margin={{ top: 7, right: 7, bottom: 0, left: 0 }}>
        <CartesianGrid stroke="#e1e3ec" strokeWidth={1.2} />
        <XAxis
          type="number"
          dataKey="x"
          domain={xDomain}
          ticks={xTicks}
          allowDataOverflow
          height={43}
          tickFormatter={(v: number) => v.toFixed(1)}
          tick={{ fill: '#262626', fontSize: 11.5, fontFamily: serif }}
          tickLine={false}
          axisLine={false}
          tickSize={6}
          tickMargin={6}
          label={{
            value: 'Predicted diffusion coefficient',
            position: 'insideBottom',
            offset: 7,
            style: { fill: '#262626', fontSize: 13, fontFamily: serif },
          }}
        />
        <YAxis
          type="number"
          dataKey="y"
          domain={yDomain}
          ticks={yTicks}
          allowDataOverflow
          width={46}
          tickFormatter={fmtY}
          tick={{ fill: '#262626', fontSize: 11.5, fontFamily: serif }}
          tickLine={false}
          axisLine={false}
          tickSize={6}
          tickMargin={4}
          label={{
            value: 'Residual',
            angle: -90,
            position: 'insideLeft',
            offset: 12,
            style: { fill: '#262626', fontSize: 13, fontFamily: serif, textAnchor: 'middle' },
          }}
        />
        {seriesList.map((data, i) => (
          <Scatter key={i} data={data} shape={Dot} isAnimationActive={false} />
        ))}
        <ReferenceLine y={0} stroke="#d62728" strokeWidth={1.5} strokeDasharray="5.5 2.4" />
        <ReferenceArea
          x1={xDomain[0]}
          x2={xDomain[1]}
          y1={yDomain[0]}
          y2={yDomain[1]}
          fill="#fff"
          fillOpacity={0}
          stroke="#6b6f75"
          strokeWidth={1.25}
        />
      </ScatterChart>
      <div
        style={{
          position: 'absolute',
          left: 58,
          top: 25,
          padding: '0 4px 1px 3px',
          border: '1px solid #cfcfcf',
          borderRadius: 3,
          background: 'rgba(255,255,255,0.85)',
          fontFamily: serif,
          fontSize: 11.5,
          lineHeight: '12.5px',
          color: '#262626',
          whiteSpace: 'nowrap',
        }}
      >
        <div>Mean residual = {meanResidual.toFixed(3)}</div>
        <div>SD = {sdResidual.toFixed(3)}</div>
      </div>
    </div>
  );
}
